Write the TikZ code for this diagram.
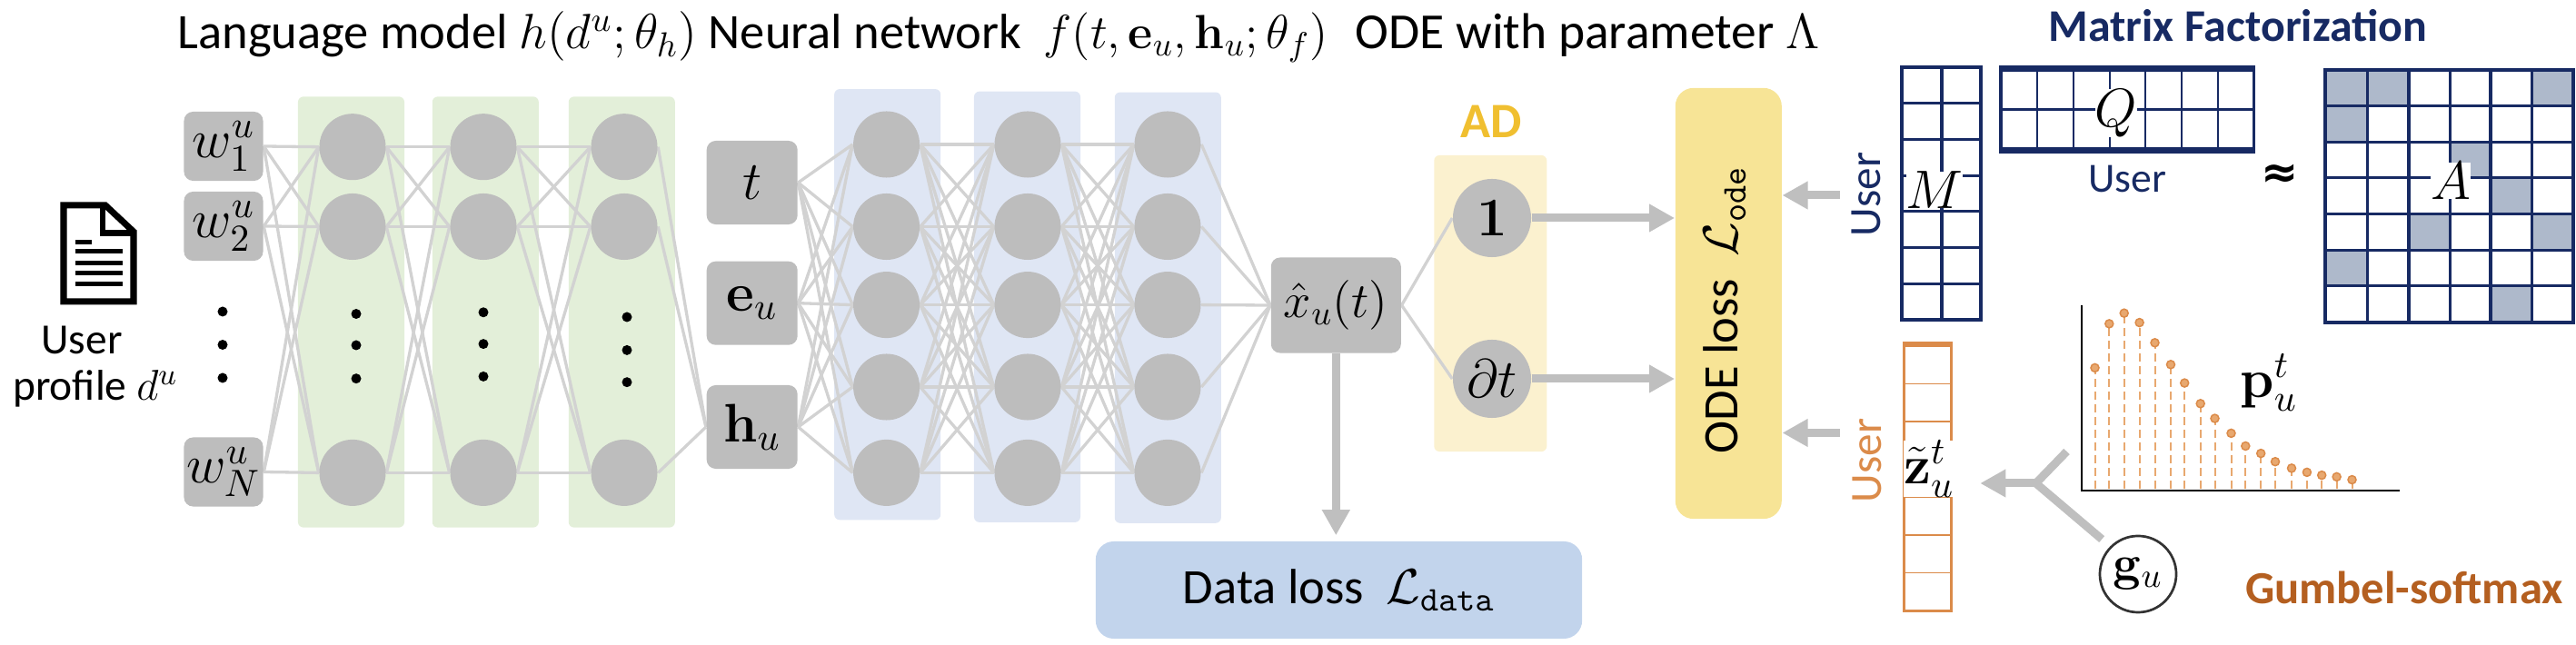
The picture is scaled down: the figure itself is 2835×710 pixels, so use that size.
\RequirePackage{fix-cm}
\documentclass[tikz,border=0pt]{standalone}
\usepackage[no-math]{fontspec}
\setmainfont{Carlito}
\newfontfamily\symfont{DejaVu Sans}
\usetikzlibrary{arrows.meta,backgrounds}
\definecolor{unitgray}{HTML}{BDBDBD}
\definecolor{linkgray}{HTML}{D2D2D2}
\definecolor{arrowgray}{HTML}{BFBFBF}
\definecolor{greenbg}{HTML}{E3EFD9}
\definecolor{bluebg}{HTML}{DFE6F4}
\definecolor{adbg}{HTML}{FBF1CF}
\definecolor{adtext}{HTML}{F0BF30}
\definecolor{odebg}{HTML}{F7E496}
\definecolor{databg}{HTML}{C2D4EC}
\definecolor{navy}{HTML}{172A63}
\definecolor{cellgray}{HTML}{AEB9CB}
\definecolor{zorange}{HTML}{DB8B4A}
\definecolor{stemorange}{HTML}{E8A86F}
\definecolor{gumbel}{HTML}{B45F20}
\newcommand{\txtsize}{\fontsize{15.5}{18}\selectfont}
\newcommand{\bigsize}{\fontsize{17}{20}\selectfont}
\newcommand{\headsize}{\fontsize{15.8}{19}\selectfont}
\newcommand{\smallsize}{\fontsize{13.5}{16}\selectfont}

\begin{document}
\begin{tikzpicture}[x=0.01cm, y=-0.01cm, font=\txtsize]
\tikzstyle{unit}=[circle, fill=unitgray, minimum size=7.3mm, inner sep=0pt]
\tikzstyle{bigunit}=[circle, fill=unitgray, minimum size=8.6mm, inner sep=0pt, font=\bigsize]
\tikzstyle{inbox}=[rectangle, rounded corners=1mm, fill=unitgray, minimum width=8.7mm, minimum height=7.6mm, inner sep=0pt, font=\bigsize]
\tikzstyle{midbox}=[rectangle, rounded corners=1mm, fill=unitgray, minimum width=10mm, minimum height=9.2mm, inner sep=0pt, font=\bigsize]
\tikzstyle{greenpanel}=[rectangle, rounded corners=.6mm, fill=greenbg, minimum width=11.7mm, minimum height=47.4mm]
\tikzstyle{bluepanel}=[rectangle, rounded corners=.6mm, fill=bluebg, minimum width=11.7mm, minimum height=47.4mm]
\tikzstyle{link}=[draw=linkgray, line width=.33mm]
\tikzstyle{fat}=[draw=arrowgray, line width=.9mm, -{Triangle[length=2.8mm,width=2.9mm]}]
\tikzstyle{matlabel}=[fill=white, inner sep=0pt, font=\bigsize]
\tikzstyle{dot}=[circle, fill=black, minimum size=1.1mm, inner sep=0pt]
\tikzstyle{heading}=[anchor=base west, inner sep=0pt]
\useasboundingbox (0,0) rectangle (2835,710);

% Titles
\node at (195,54) [heading] (title_lang) {Language model $h(d^u;\theta_h)$};
\node at (779,54) [heading] (title_net) {Neural network\ \ {\fontsize{15}{18}\selectfont$f(t,\mathbf{e}_u,\mathbf{h}_u;\theta_f)$}};
\node at (1491,54) [heading, font=\headsize] (title_ode) {ODE with parameter {\txtsize$\Lambda$}};
\node at (2463,28) [navy, font=\fontsize{14.2}{17}\selectfont\bfseries] (title_mf) {Matrix Factorization};

% Profile
\draw [line width=.7mm, miter limit=4] (70,226) -- (116,226) -- (147,255) -- (147,332) -- (70,332) -- cycle;
\draw [line width=.65mm] (113,226) -- (113,256.5) -- (147,256.5);
\fill (83,264) rectangle (100.5,269);
\foreach \y in {277,290,301,312.5}
\fill (83,\y-2.5) rectangle (135,\y+2.5);
\node at (90,374) [font=\smallsize] (user_txt) {User};
\node at (105,428) [font=\smallsize] (profile_txt) {profile $d^u$};

% Input words
\node at (246,161) [inbox] (word_1) {$w_1^u$};
\node at (246,249) [inbox] (word_2) {$w_2^u$};
\node at (246,519.5) [inbox] (word_N) {$w_N^u$};
\foreach \y in {343,379.5,416}
\node at (245,\y) [dot] {};

% Language model units
\foreach \x/\n in {388/first,532/second,687/third} {
\node at (\x,161.7) [unit] (\n_1) {};
\node at (\x,249.5) [unit] (\n_2) {};
\node at (\x,520.4) [unit] (\n_3) {};
}
\foreach \y in {345.5,380,416.7}
\node at (392,\y) [dot] {};
\foreach \y in {343.8,378.6,414.4}
\node at (532,\y) [dot] {};
\foreach \y in {349,385.4,420.7}
\node at (690,\y) [dot] {};

% Inputs of the network
\node at (827.7,201) [midbox] (in_t) {$t$};
\node at (827.7,333.7) [midbox] (in_e) {$\mathbf{e}_u$};
\node at (827.7,470) [midbox] (in_h) {$\mathbf{h}_u$};

% Network units
\foreach \x/\n in {975.6/fourth,1131/fifth,1285/sixth}
\foreach \y/\k in {159/1,249.5/2,335.6/3,426/4,520.4/5}
\node at (\x,\y) [unit] (\n_\k) {};

% Output and AD
\node at (1470.3,336) [rectangle, rounded corners=1mm, fill=unitgray, minimum width=14.3mm, minimum height=10.5mm, inner sep=0pt] (xhat) {$\hat{x}_u(t)$};
\node at (1642,240) [bigunit] (ad_1) {$\mathbf{1}$};
\node at (1642,417) [bigunit] (ad_2) {$\partial t$};
\node at (1641,134) [adtext, font=\txtsize\bfseries] (ad_txt) {AD};

% Losses
\node at (1902.3,334) [rectangle, rounded corners=2mm, fill=odebg, minimum width=11.7mm, minimum height=47.4mm] (ode) {};
\node at (1898,341) [rotate=90] (ode_txt) {ODE loss\ \ $\mathcal{L}_{\mathtt{ode}}$};
\node at (1473.5,649.5) [rectangle, rounded corners=2mm, fill=databg, minimum width=53.5mm, minimum height=10.7mm] (data) {Data loss\ \ $\mathcal{L}_{\mathtt{data}}$};

\begin{scope}[on background layer]
% Panels
\foreach \x in {386.5,534.3,684.3}
\node at (\x,343.5) [greenpanel] {};
\node at (976.7,335.2) [bluepanel] {};
\node at (1130.5,337.8) [bluepanel] {};
\node at (1285.3,338.7) [bluepanel] {};
\node at (1640.3,334) [rectangle, rounded corners=.6mm, fill=adbg, minimum width=12.4mm, minimum height=32.6mm] {};

% Words -> Hidden 1 -> Hidden 2 -> Hidden 3 -> h
\foreach \i in {1,2,N}
\foreach \j in {1,2,3}
\draw [link] (word_\i.east) to (first_\j.west);
\foreach \i in {1,2,3}
\foreach \j in {1,2,3}
\draw [link] (first_\i.east) to (second_\j.west);
\foreach \i in {1,2,3}
\foreach \j in {1,2,3}
\draw [link] (second_\i.east) to (third_\j.west);
\foreach \i in {1,2,3}
\draw [link] (third_\i.east) to (in_h.west);

% Inputs -> Hidden 1 -> Hidden 2 -> Hidden 3 -> Output
\foreach \i in {t,e,h}
\foreach \j in {1,...,5}
\draw [link] (in_\i.east) to (fourth_\j.west);
\foreach \i in {1,...,5}
\foreach \j in {1,...,5}
\draw [link] (fourth_\i.east) to (fifth_\j.west);
\foreach \i in {1,...,5}
\foreach \j in {1,...,5}
\draw [link] (fifth_\i.east) to (sixth_\j.west);
\foreach \i in {1,...,5}
\draw [link] (sixth_\i.east) to (xhat.west);
\draw [link] (xhat.east) to (ad_1.west);
\draw [link] (xhat.east) to (ad_2.west);
\end{scope}

% Arrows to the losses
\draw [fat, shorten >=.6mm] (xhat.south) to (xhat.south |- data.north);
\draw [fat] (ad_1.east) to (ad_1.east -| ode.west);
\draw [fat] (ad_2.east) to (ad_2.east -| ode.west);
\coordinate (mf_out) at (2025,215);
\coordinate (gs_out) at (2025,476.5);
\draw [fat] (mf_out) to (mf_out -| ode.east);
\draw [fat] (gs_out) to (gs_out -| ode.east);

% Matrix M
\node at (2136.8,213) [draw=navy, line width=.4mm, minimum width=8.7mm, minimum height=27.8mm, inner sep=0pt] (mat_m) {};
\draw [navy, line width=.35mm] (mat_m.north) to (mat_m.south);
\foreach \y in {114,153.5,193.4,233,272.6,312.5}
\draw [navy, line width=.3mm] (2093,\y) -- (2180.6,\y);
\node at (2129,209) [matlabel] (mat_m_txt) {$M$};
\node at (2053.6,214) [navy, rotate=90, font=\fontsize{14}{16}\selectfont] (user_m) {User};

% Matrix Q
\node at (2341.2,120.5) [draw=navy, line width=.35mm, minimum width=27.8mm, minimum height=8.7mm, inner sep=0pt] (mat_q) {};
\draw [navy, line width=.55mm] (mat_q.north west) -- (mat_q.north east);
\draw [navy, line width=.55mm] (mat_q.south west) -- (mat_q.south east);
\draw [navy, line width=.3mm] (mat_q.west) to (mat_q.east);
\foreach \x in {2242,2282,2322,2361,2401,2441}
\draw [navy, line width=.22mm] (\x,77) -- (\x,164);
\node at (2329,124.5) [matlabel] (mat_q_txt) {$Q$};
\node at (2341,197) [navy, font=\fontsize{13}{15}\selectfont] (user_q) {User};
\node at (2509,194) [font=\fontsize{14}{16}\selectfont\symfont\bfseries] (approx_txt) {≈};

% Matrix A
\foreach \xa/\xb/\ya/\yb in {2559/2605.4/77/117,2605.4/2651/77/117,2786.4/2832/77/117,2559/2605.4/117/156.7,2696.5/2741/156.7/196,2741/2786.4/196/236,2651/2696.5/236/275.4,2786.4/2832/236/275.4,2559/2605.4/275.4/314.8,2741/2786.4/314.8/354.6}
\fill [cellgray] (\xa,\ya) rectangle (\xb,\yb);
\foreach \x in {2605.4,2651,2696.5,2741,2786.4}
\draw [navy, line width=.33mm] (\x,77) -- (\x,354.6);
\foreach \y in {117,156.7,196,236,275.4,314.8}
\draw [navy, line width=.3mm] (2559,\y) -- (2832,\y);
\node at (2695.5,215.8) [draw=navy, line width=.4mm, minimum width=27.3mm, minimum height=27.76mm, inner sep=0pt] (mat_a) {};
\node at (2697,199) [matlabel] (mat_a_txt) {$A$};

% Matrix z
\node at (2121.5,526.2) [draw=zorange, line width=.35mm, minimum width=5.2mm, minimum height=29.2mm, inner sep=0pt] (mat_z) {};
\draw [zorange, line width=.55mm] (mat_z.north west) -- (mat_z.north east);
\foreach \y in {422.5,464,506,547.5,589,630.4}
\draw [zorange, line width=.15mm] (2095.6,\y) -- (2147.4,\y);
\node at (2123,516) [matlabel] (mat_z_txt) {$\tilde{\mathbf{z}}_u^t$};
\node at (2055,507) [zorange, rotate=90, font=\fontsize{14}{16}\selectfont] (user_z) {User};

% Plot of p
\draw [line width=.2mm] (2290.8,336.5) -- (2290.8,540.3) -- (2641.4,540.3);
\foreach \x/\y in {2305.5/404.9,2321.3/356.4,2337.7/344.7,2354.6/355.1,2371.5/377.3,2389/401.3,2404.2/421.6,2421.7/444.3,2437.5/460.6,2455.5/476.9,2471.3/491,2488.2/499.1,2504/508.2,2522/515.4,2538.9/519.9,2555.2/523.1,2571.6/524.9,2588.5/528.1} {
\draw [stemorange, line width=.2mm, dash pattern=on .9mm off .5mm] (\x,538) -- (\x,\y);
\filldraw [draw=zorange, fill=stemorange, line width=.15mm] (\x,\y) circle (.45mm);
}
\node at (2497,421) [font=\bigsize] (plot_txt) {$\mathbf{p}_u^t$};

% Gumbel sampling
\node at (2353,632) [circle, draw=black!80, line width=.27mm, minimum size=8.4mm, inner sep=0pt] (gumbel_u) {$\mathbf{g}_u$};
\coordinate (fork) at (2240.6,532);
\coordinate (plot_in) at (2274.5,497);
\draw [fat, shorten >=3mm] (fork) to (fork -| mat_z.east);
\draw [draw=arrowgray, line width=.9mm] (fork) to (plot_in);
\draw [draw=arrowgray, line width=.9mm, shorten >=1.2mm] (fork) to (gumbel_u.135);
\node at (2646,647) [gumbel, font=\fontsize{14.4}{17}\selectfont\bfseries] (gumbel_txt) {Gumbel-softmax};
\end{tikzpicture}
\end{document}
